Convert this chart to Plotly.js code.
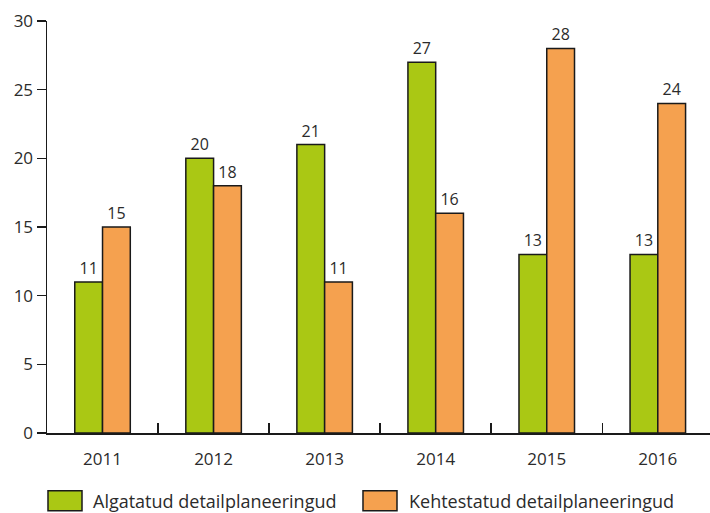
<!DOCTYPE html>
<html>
<head>
<meta charset="utf-8">
<script src="https://cdn.plot.ly/plotly-3.0.1.min.js"></script>
<style>html,body{margin:0;padding:0;background:#fff;}#chart{width:710px;height:513px;}</style>
</head>
<body>
<div id="chart"></div>
<script>
const years = ["2011", "2012", "2013", "2014", "2015", "2016"];
const algatatud = [11, 20, 21, 27, 13, 13];
const kehtestatud = [15, 18, 11, 16, 28, 24];
const seriesNames = ["Algatatud detailplaneeringud", "Kehtestatud detailplaneeringud"];
const seriesColors = ["#aac814", "#f5a14f"];

const fontFamily = "Open Sans, Noto Sans, sans-serif";
const textColor = "#2b2b2b";
const lineColor = "#1a1a1a";

const traces = [
  {
    type: "bar", name: seriesNames[0], x: years, y: algatatud,
    marker: {color: seriesColors[0], line: {color: lineColor, width: 1.5}},
    text: algatatud.map(String), textposition: "outside", cliponaxis: false,
    textfont: {family: fontFamily, size: 16, color: textColor}
  },
  {
    type: "bar", name: seriesNames[1], x: years, y: kehtestatud,
    marker: {color: seriesColors[1], line: {color: lineColor, width: 1.5}},
    text: kehtestatud.map(String), textposition: "outside", cliponaxis: false,
    textfont: {family: fontFamily, size: 16, color: textColor}
  }
];

// custom legend (large swatches as in the reference)
const legendSwatchX = [[0.0015, 0.0528], [0.4766, 0.5279]];
const legendTextX = [0.066, 0.543];
const shapes = legendSwatchX.map((sx, i) => ({
  type: "rect", xref: "paper", yref: "paper",
  x0: sx[0], x1: sx[1], y0: -0.1885, y1: -0.14,
  fillcolor: seriesColors[i], line: {color: lineColor, width: 1.5}
}));
const annotations = seriesNames.map((n, i) => ({
  xref: "paper", yref: "paper", x: legendTextX[i], y: -0.164,
  xanchor: "left", yanchor: "middle", showarrow: false, text: n,
  font: {family: fontFamily, size: 18, color: textColor}
}));

const layout = {
  width: 710, height: 513,
  margin: {l: 47, r: 0, t: 21, b: 80},
  paper_bgcolor: "#fff", plot_bgcolor: "#fff",
  font: {family: fontFamily, size: 17, color: textColor},
  barmode: "group", bargap: 0.5, bargroupgap: 0,
  showlegend: false,
  shapes: shapes,
  annotations: annotations,
  xaxis: {
    type: "category", range: [-0.5, 5.47],
    showline: true, linecolor: lineColor, linewidth: 1.5,
    ticks: "inside", tickson: "boundaries", ticklen: 10, tickcolor: lineColor, tickwidth: 1.5,
    ticklabelstandoff: 10,
    tickfont: {family: fontFamily, size: 17, color: textColor},
    showgrid: false, zeroline: false, fixedrange: true
  },
  yaxis: {
    range: [0, 30], tickvals: [0, 5, 10, 15, 20, 25, 30],
    showline: true, linecolor: lineColor, linewidth: 1.5,
    ticks: "outside", ticklen: 9, tickcolor: lineColor, tickwidth: 1.5,
    tickfont: {family: fontFamily, size: 17, color: textColor},
    showgrid: false, zeroline: false, fixedrange: true
  }
};

Plotly.newPlot("chart", traces, layout, {displayModeBar: false, staticPlot: true});
</script>
</body>
</html>
